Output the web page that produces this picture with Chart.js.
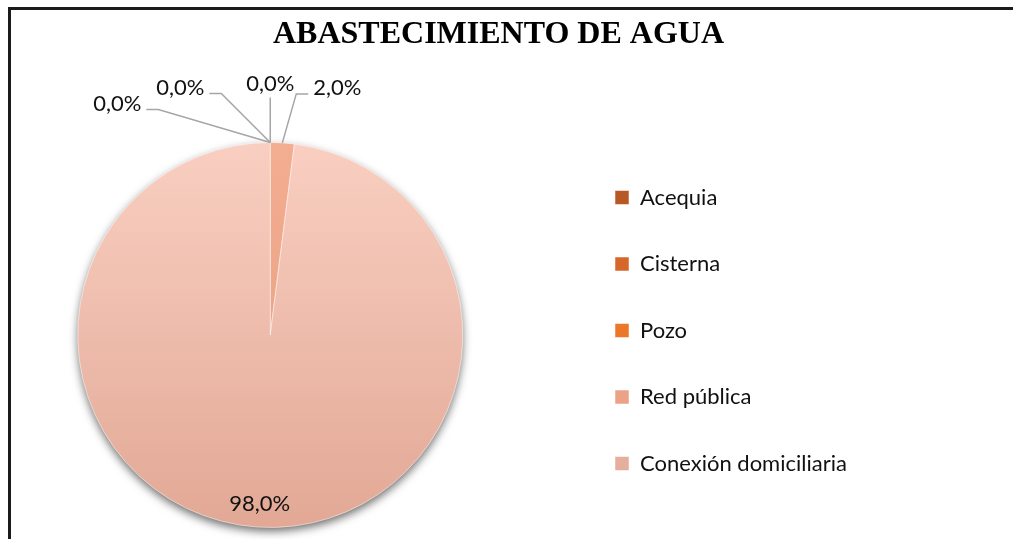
<!DOCTYPE html>
<html>
<head>
<meta charset="utf-8">
<script src="https://cdn.jsdelivr.net/npm/chart.js@4/dist/chart.umd.min.js"></script>
<style>
  html, body { margin: 0; padding: 0; background: #fff; overflow: hidden; }
  #wrap { position: relative; width: 1013px; height: 539px; overflow: hidden; }
  #chart { position: absolute; left: -40px; top: 0; }
</style>
</head>
<body>
<div id="wrap"><canvas id="chart" width="1060" height="539"></canvas></div>
<script>
const categories = ["Acequia", "Cisterna", "Pozo", "Red pública", "Conexión domiciliaria"];
const percentages = [0, 0, 0, 2, 98];
const chartTitle = "ABASTECIMIENTO DE AGUA";

// excel style gradient, light on top, darker at the bottom
const topColors = ["#BC5B27", "#DC6B2D", "#F47F31", "#F3AD90", "#F9CFC1"];
const bottomColors = ["#A24A18", "#C65E22", "#E2701F", "#E89C80", "#E2A895"];

const labelFont = "22px Lato";

// where each outside label sits, relative to the point where its slice meets the rim
// (null = label goes inside the slice)
const callouts = [
    { dx: -153, dy: -39 },
    { dx: -90, dy: -55 },
    { dx: 0, dy: -59 },
    { dx: 55, dy: -55 },
    null,
];

function fmt(v) {
    return v.toFixed(1).replace(".", ",") + "%";
}

function sliceFill(context) {
    const i = context.dataIndex;
    const area = context.chart.chartArea;
    if (!area) return topColors[i];
    const g = context.chart.ctx.createLinearGradient(0, area.top, 0, area.bottom);
    g.addColorStop(0, topColors[i]);
    g.addColorStop(1, bottomColors[i]);
    return g;
}

// box lines + title
const frameTitle = {
    id: "frameTitle",
    beforeDraw(chart, args, opts) {
        const ctx = chart.ctx;
        ctx.save();
        ctx.fillStyle = "#fff";
        ctx.fillRect(0, 0, chart.width, chart.height);
        ctx.strokeStyle = "#1b1b1b";
        ctx.lineWidth = 3;
        ctx.beginPath();
        ctx.moveTo(opts.left + 1.5, chart.height);
        ctx.lineTo(opts.left + 1.5, opts.top + 1.5);
        ctx.lineTo(chart.width, opts.top + 1.5);
        ctx.stroke();
        ctx.font = "bold 32px 'Liberation Serif'";
        ctx.fillStyle = "#000";
        ctx.textAlign = "center";
        ctx.textBaseline = "alphabetic";
        ctx.fillText(chartTitle, opts.titleX, opts.titleY);
        ctx.restore();
    }
};

// soft shadow under the whole pie
const pieShadow = {
    id: "pieShadow",
    beforeDatasetsDraw(chart) {
        const arc = chart.getDatasetMeta(0).data[0];
        if (!arc) return;
        const ctx = chart.ctx;
        ctx.save();
        ctx.shadowColor = "rgba(0,0,0,0.6)";
        ctx.shadowBlur = 10;
        ctx.shadowOffsetY = 4;
        ctx.fillStyle = "#e3a994";
        ctx.beginPath();
        ctx.arc(arc.x, arc.y, arc.outerRadius - 0.5, 0, Math.PI * 2);
        ctx.fill();
        ctx.restore();
    }
};

// percentage labels with leader lines
const sliceLabels = {
    id: "sliceLabels",
    afterDatasetsDraw(chart, args, opts) {
        const ctx = chart.ctx;
        const arcs = chart.getDatasetMeta(0).data;
        const values = chart.data.datasets[0].data;
        ctx.save();
        ctx.font = labelFont;
        ctx.fillStyle = "#111";
        ctx.textBaseline = "middle";
        ctx.textAlign = "center";
        ctx.strokeStyle = "#a6a6a6";
        ctx.lineWidth = 1.5;
        arcs.forEach((arc, i) => {
            const { x, y, startAngle, endAngle, outerRadius } =
                arc.getProps(["x", "y", "startAngle", "endAngle", "outerRadius"], true);
            const mid = (startAngle + endAngle) / 2;
            const text = fmt(values[i]);
            const c = callouts[i];
            if (!c) {
                const r = outerRadius * opts.inside;
                ctx.fillText(text, x + Math.cos(mid) * r, y + Math.sin(mid) * r);
                return;
            }
            const ax = x + Math.cos(mid) * outerRadius;
            const ay = y + Math.sin(mid) * outerRadius;
            const tx = ax + c.dx, ty = ay + c.dy;
            const w = ctx.measureText(text).width;
            ctx.beginPath();
            if (c.dx === 0) {
                ctx.moveTo(tx, ty + 14);
                ctx.lineTo(ax, ay);
            } else {
                const side = c.dx < 0 ? 1 : -1;
                const x0 = tx + side * (w / 2 + 5);
                const x1 = x0 + side * 12;
                const ly = ty + 6;
                ctx.moveTo(x0, ly);
                ctx.lineTo(x1, ly);
                ctx.lineTo(ax, ay);
            }
            ctx.stroke();
            ctx.fillText(text, tx, ty);
        });
        ctx.restore();
    }
};

new Chart(document.getElementById("chart"), {
    type: "pie",
    data: {
        labels: categories,
        datasets: [
            {
                data: percentages,
                backgroundColor: sliceFill,
                borderColor: "rgba(255,255,255,0.5)",
                borderWidth: 1,
            },
        ],
    },
    options: {
        responsive: false,
        animation: false,
        layout: { padding: { left: 10, right: 169.5, top: 142, bottom: 11 } },
        plugins: {
            title: { display: false },
            tooltip: { enabled: false },
            legend: {
                position: "right",
                align: "start",
                maxWidth: 280,
                labels: {
                    boxWidth: 14,
                    boxHeight: 14,
                    padding: 44.5,
                    color: "#111",
                    font: { family: "Lato", size: 22 },
                },
            },
            frameTitle: { left: 48, top: 7, titleX: 538.5, titleY: 43 },
            sliceLabels: { inside: 0.88 },
        },
    },
    plugins: [frameTitle, pieShadow, sliceLabels],
});
</script>
</body>
</html>
